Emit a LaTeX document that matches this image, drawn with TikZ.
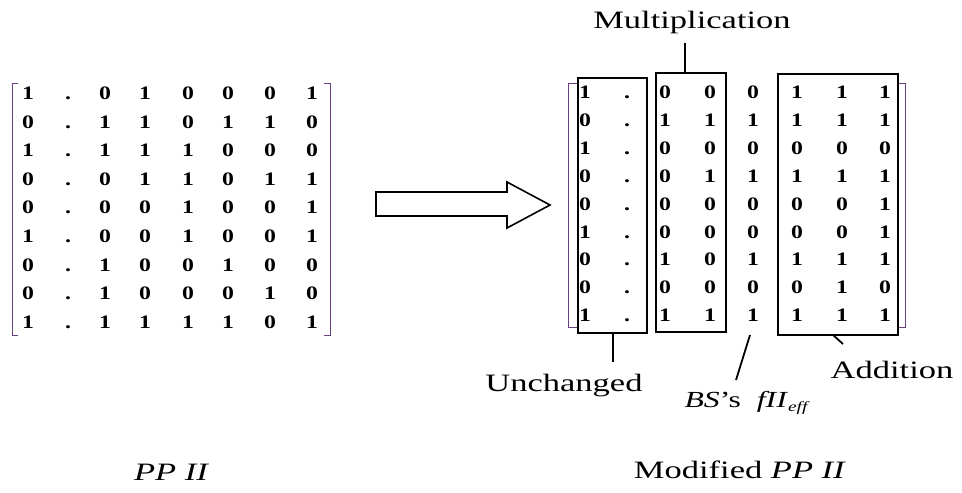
\documentclass[tikz,border=0pt]{standalone}
\usepackage{fontspec}
\setmainfont{Liberation Serif}
\newfontfamily\lbl{Liberation Serif}[FakeStretch=1.38]
\newfontfamily\dig{Liberation Serif}[FakeStretch=1.25]
\definecolor{brk}{rgb}{0.42,0.25,0.5}
\tikzset{
  lab/.style={font=\lbl\fontsize{25}{28}\selectfont, inner sep=0pt},
  ent/.style={font=\dig\bfseries\fontsize{19}{21}\selectfont, inner sep=0pt, text height=13pt, text depth=0pt, anchor=center},
  grp/.style={draw, line width=2.5pt, inner sep=0pt, outer sep=0pt},
  lead/.style={line width=2.2pt},
  bracket/.style={draw=brk, line width=0.9pt},
}
\begin{document}
\begin{tikzpicture}[x=1pt,y=-1pt]
\useasboundingbox (0,0) rectangle (962,493);
% left matrix
\def\lcols{{28,68,105,145,188,228,270,312}}
\foreach \row [count=\r] in {{1,.,0,1,0,0,0,1},{0,.,1,1,0,1,1,0},{1,.,1,1,1,0,0,0},{0,.,0,1,1,0,1,1},{0,.,0,0,1,0,0,1},{1,.,0,0,1,0,0,1},{0,.,1,0,0,1,0,0},{0,.,1,0,0,0,1,0},{1,.,1,1,1,1,0,1}}{
  \foreach \v [count=\c] in \row {
    \pgfmathsetmacro{\xx}{\lcols[\c-1]}
    \pgfmathsetmacro{\yy}{93+28.6*(\r-1)}
    \node[ent] (L-\r-\c) at (\xx,\yy) {\v};
  }
}
\draw[bracket] (18,83) -- (12,83) -- (12,335) -- (18,335);
\draw[bracket] (324,83) -- (330,83) -- (330,335) -- (324,335);
\node[lab, font=\lbl\itshape\fontsize{25}{28}\selectfont] (pp) at (171,472) {PP II};
% arrow
\draw[line width=1.6pt, line join=miter] (376,192) -- (507,192) -- (507,182) -- (550,205) -- (507,228) -- (507,216) -- (376,216) -- cycle;
% right matrix
\def\rcols{{585,627,665,710,753,797,842,885}}
\foreach \row [count=\r] in {{1,.,0,0,0,1,1,1},{0,.,1,1,1,1,1,1},{1,.,0,0,0,0,0,0},{0,.,0,1,1,1,1,1},{0,.,0,0,0,0,0,1},{1,.,0,0,0,0,0,1},{0,.,1,0,1,1,1,1},{0,.,0,0,0,0,1,0},{1,.,1,1,1,1,1,1}}{
  \foreach \v [count=\c] in \row {
    \pgfmathsetmacro{\xx}{\rcols[\c-1]}
    \pgfmathsetmacro{\yy}{92+27.9*(\r-1)}
    \node[ent] (R-\r-\c) at (\xx,\yy) {\v};
  }
}
\draw[bracket] (577,83) -- (568,83) -- (568,327) -- (577,327);
\draw[bracket] (897,83) -- (905,83) -- (905,327) -- (897,327);
% group boxes
\node[grp, minimum width=69pt, minimum height=255pt] (ubox) at (612.5,205.5) {};
\node[grp, minimum width=70pt, minimum height=259pt] (mbox) at (691,202.5) {};
\node[grp, minimum width=120pt, minimum height=261pt] (abox) at (838,204.5) {};
% labels
\node[lab] (mult) at (692,22) {Multiplication};
\coordinate (mtop) at (685,43);
\draw[lead] (mbox.north -| mtop) -- (mtop);
\node[lab] (unch) at (564,386) {Unchanged};
\coordinate (uend) at (613,362);
\draw[lead] (ubox.south -| uend) -- (uend);
\node[lab, font=\lbl\fontsize{23}{26}\selectfont] (bs) at (746,403) {\textit{BS}’s\ \ \textit{fII}\raisebox{-0.35ex}{\fontsize{14}{16}\selectfont\itshape eff}};
\coordinate (bstop) at (750,335);
\coordinate (bsend) at (736,380);
\draw[line width=1.8pt] (bstop) -- (bsend);
\node[lab] (add) at (892,370) {Addition};
\coordinate (aend) at (843,344);
\draw[line width=1.8pt] (abox.south -| 833,0) -- (aend);
\node[lab] (mod) at (740,470) {Modified \textit{PP II}};
\end{tikzpicture}
\end{document}
